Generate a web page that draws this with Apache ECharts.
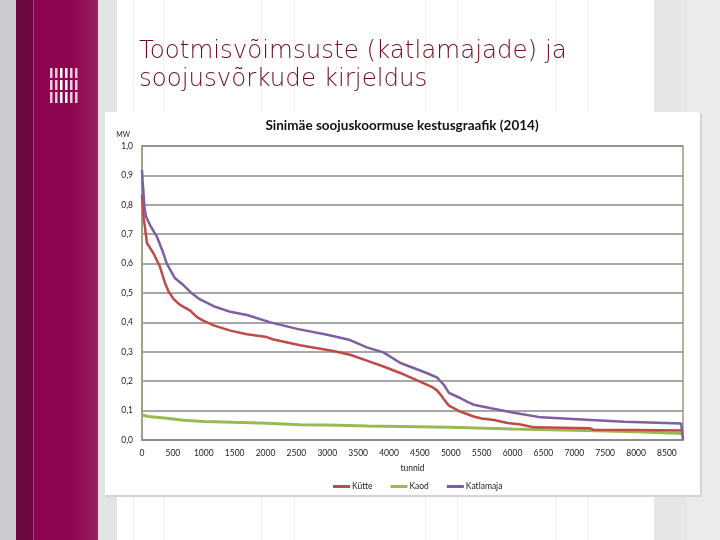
<!DOCTYPE html>
<html>
<head>
<meta charset="utf-8">
<script src="https://cdn.jsdelivr.net/npm/echarts@6/dist/echarts.min.js"></script>
<style>html,body{margin:0;padding:0;background:#e6e6e6}#c{width:720px;height:540px}</style>
</head>
<body>
<div id="c"></div>
<script>
// ---- data ----
const slideTitle = 'Tootmisvõimsuste (katlamajade) ja\nsoojusvõrkude kirjeldus';
const chartTitle = 'Sinimäe soojuskoormuse kestusgraafik (2014)';
const seriesNames = ['Kütte', 'Kaod', 'Katlamaja'];
const yTicks = [0, 0.1, 0.2, 0.3, 0.4, 0.5, 0.6, 0.7, 0.8, 0.9, 1.0];

const kytteHours = [0,15,30,50,80,180,290,370,430,510,600,680,780,890,1000,1160,1430,1700,2020,2130,2560,3100,3370,3640,3910,4180,4510,4700,4780,4850,4890,4970,5160,5370,5500,5700,5920,6130,6350,7250,7300,8000,8760];
const kytteMW    = [0.835,0.79,0.75,0.72,0.67,0.637,0.59,0.535,0.505,0.48,0.462,0.452,0.44,0.418,0.405,0.39,0.372,0.36,0.35,0.342,0.322,0.303,0.29,0.27,0.25,0.228,0.198,0.18,0.168,0.15,0.138,0.117,0.096,0.08,0.073,0.068,0.058,0.053,0.043,0.04,0.035,0.034,0.032];

const kaodHours = [0,100,400,670,1000,1480,2020,2560,3000,3650,4190,5000,6000,7000,8000,8760];
const kaodMW    = [0.085,0.08,0.074,0.067,0.063,0.06,0.057,0.052,0.051,0.048,0.046,0.043,0.037,0.033,0.028,0.022];

const katlaHours = [0,10,21,40,65,130,240,346,400,535,670,806,940,1160,1430,1700,2080,2510,3000,3370,3640,3910,4185,4620,4780,4890,4970,5160,5270,5370,5650,6020,6460,7270,7810,8730,8760];
const katlaMW    = [0.918,0.88,0.85,0.79,0.76,0.731,0.692,0.635,0.601,0.55,0.527,0.499,0.478,0.455,0.436,0.425,0.4,0.378,0.358,0.34,0.315,0.298,0.262,0.227,0.212,0.187,0.16,0.142,0.13,0.12,0.108,0.093,0.077,0.068,0.062,0.056,0];

const zip = (a, b) => a.map((v, i) => [v, b[i]]);

const chart = echarts.init(document.getElementById('c'), null, {renderer: 'canvas'});

const faintX = [133, 163, 261, 294, 425, 457, 556, 588];
const deco = [
  {type:'rect', shape:{x:0,y:0,width:720,height:540}, style:{fill:'#e6e6e6'}, z:-10},
  {type:'rect', shape:{x:687,y:0,width:33,height:540}, style:{fill:'#ebebeb'}, z:-10},
  {type:'rect', shape:{x:0,y:0,width:16,height:540}, style:{fill:'#c9cbcc'}, z:-10},
  {type:'rect', shape:{x:16,y:0,width:17,height:540}, style:{fill:'#6c0840'}, z:-10},
  {type:'rect', shape:{x:33,y:0,width:65,height:540}, style:{fill:new echarts.graphic.LinearGradient(0,0,1,0,[{offset:0,color:'#8e0650'},{offset:0.6,color:'#8e0650'},{offset:1,color:'#9a2060'}])}, z:-10},
  {type:'rect', shape:{x:33,y:0,width:1,height:540}, style:{fill:'#a84070'}, z:-9},
  {type:'rect', shape:{x:98,y:0,width:19,height:540}, style:{fill:'#e3e3e3'}, z:-10},
  {type:'rect', shape:{x:117,y:0,width:537,height:540}, style:{fill:'#ffffff'}, z:-10}
];
faintX.forEach(x => deco.push({type:'rect', shape:{x:x,y:0,width:1,height:540}, style:{fill:'#f0f0f0'}, z:-9}));
// logo: three rows of small vertical bars
const logoRows = [68, 80, 92];
const logoCols = [50, 55, 60, 65, 70, 75];
logoRows.forEach((y, r) => logoCols.forEach((x, c) => {
  const bright = (c === 2 || c === 3);
  deco.push({type:'rect', shape:{x:x, y:y, width:2.5, height:(r===2?11:10)},
    style:{fill: bright ? '#ffffff' : '#f0c8dc'}, z:-8});
}));
// chart panel with shadow
deco.push({type:'rect', shape:{x:106,y:113,width:596,height:384}, style:{fill:'#d4d4d4'}, z:-7});
deco.push({type:'rect', shape:{x:105,y:112,width:595,height:383}, style:{fill:'#ffffff'}, z:-6});

const option = {
  animation: false,
  backgroundColor: '#e6e6e6',
  graphic: deco,
  title: [
    {text: slideTitle, left: 139, top: 38, padding: 0,
     textStyle:{fontFamily:'DejaVu Sans', fontSize:24.5, fontWeight:200, color:'#6e101c', lineHeight:28}},
    {text: chartTitle, left: 402, top: 119, padding: 0, textAlign:'center',
     textStyle:{fontFamily:'Lato', fontSize:13.5, fontWeight:'bold', color:'#111'}}
  ],
  legend: {
    data: seriesNames, left: 328, top: 477, icon: 'rect', itemWidth: 17, itemHeight: 3, itemGap: 18,
    textStyle:{fontFamily:'Lato', fontSize:8.5, color:'#222', padding:[0,0,0,-3]}
  },
  grid: {left: 142, right: 37, top: 146, bottom: 100, show: true, borderColor: '#9b9b7a', borderWidth: 1.5, backgroundColor: '#fff'},
  xAxis: {
    type: 'value', min: 0, max: 8760, interval: 500,
    name: 'tunnid', nameLocation: 'middle', nameGap: 24,
    nameTextStyle:{fontFamily:'Lato', fontSize:8.5, color:'#222'},
    axisLine:{show:true, lineStyle:{color:'#8a8a8a', width:1.5}},
    axisTick:{show:false},
    splitLine:{show:false},
    axisLabel:{fontFamily:'Lato', fontSize:8.5, color:'#222', margin:9,
      showMaxLabel:false,
      formatter: v => (v % 500 === 0 && v <= 8500) ? String(v) : ''}
  },
  yAxis: {
    type: 'value', min: 0, max: 1, interval: 0.1,
    name: 'MW', nameLocation: 'end', nameGap: 8,
    nameTextStyle:{fontFamily:'Lato', fontSize:7, color:'#222', align:'right', padding:[0,12,0,0]},
    axisLine:{show:true, lineStyle:{color:'#9b9b7a', width:1.5}},
    axisTick:{show:false},
    splitLine:{show:true, lineStyle:{color:'#8a8a8a', width:1.5}},
    axisLabel:{fontFamily:'Lato', fontSize:8.5, color:'#222', margin:9,
      formatter: v => yTicks.includes(Math.round(v*10)/10) ? v.toFixed(1).replace('.', ',') : ''}
  },
  series: [
    {name: seriesNames[0], type:'line', data: zip(kytteHours, kytteMW), showSymbol:false,
     lineStyle:{color:'#be4b48', width:2.5}, itemStyle:{color:'#be4b48'}, z:3},
    {name: seriesNames[1], type:'line', data: zip(kaodHours, kaodMW), showSymbol:false,
     lineStyle:{color:'#98b954', width:3}, itemStyle:{color:'#98b954'}, z:2},
    {name: seriesNames[2], type:'line', data: zip(katlaHours, katlaMW), showSymbol:false,
     lineStyle:{color:'#7d60a0', width:2.5}, itemStyle:{color:'#7d60a0'}, z:4}
  ]
};
chart.setOption(option);
</script>
</body>
</html>
